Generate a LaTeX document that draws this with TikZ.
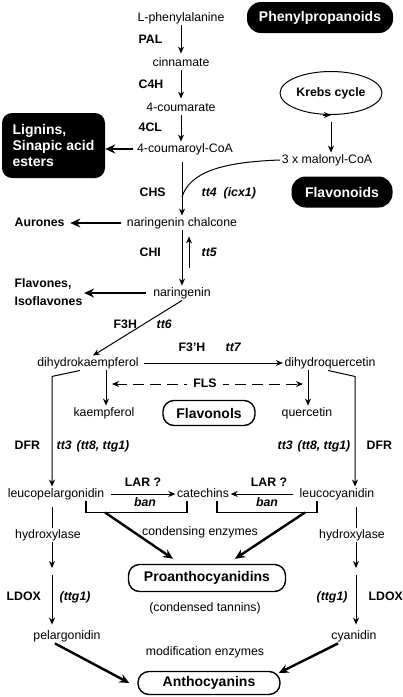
\documentclass[tikz,border=0pt]{standalone}
\usepackage{fontspec}
\setmainfont{Liberation Sans}
\usepackage{tikz}
\usetikzlibrary{arrows.meta}
\usetikzlibrary{shapes.geometric}

\begin{document}
\begin{tikzpicture}[x=1pt, y=-1pt,
    every node/.style={font=\fontsize{12.3}{14}\selectfont, inner sep=1.5pt},
    cmpd/.style={text height=9pt, text depth=2.5pt},
    enz/.style={cmpd, font=\fontsize{12.3}{14}\selectfont\bfseries, anchor=west},
    gene/.style={cmpd, font=\fontsize{12.3}{14}\selectfont\bfseries\itshape, anchor=west},
    darkbox/.style={fill=black, text=white, rounded corners=14pt, align=left, font=\fontsize{14}{16}\selectfont\bfseries},
    classbox/.style={draw, fill=white, line width=1.4pt, rounded corners=11pt, font=\fontsize{14}{16}\selectfont\bfseries},
    arr/.style={-{Stealth[length=7pt, width=6pt]}, line width=1pt},
    fat/.style={-{Stealth[length=10pt, width=9pt]}, line width=2.4pt},
    dsh/.style={dash pattern=on 11pt off 6pt}]
\useasboundingbox (0,0) rectangle (403,697);

\node[darkbox, minimum width=146pt, minimum height=31pt]                 (ppd) at (320,17.5)  {Phenylpropanoids};
\node[darkbox, minimum width=103pt, minimum height=65pt, rounded corners=10pt] (lig) at (53.5,145.5) {Lignins,\\Sinapic acid\\esters};
\node[darkbox, minimum width=101pt, minimum height=31pt]                 (fld) at (342,192)   {Flavonoids};
\node[draw, ellipse, line width=1pt, minimum width=98pt, minimum height=43pt,
      font=\fontsize{12.3}{14}\selectfont\bfseries]                      (krb) at (331,93)    {Krebs cycle};

\node[cmpd] (phe) at (181,18)  {L-phenylalanine};
\node[cmpd] (cin) at (181,63)  {cinnamate};
\node[cmpd] (cou) at (181,108) {4-coumarate};
\node[cmpd] (cmr) at (185,149) {4-coumaroyl-CoA};
\node[cmpd] (mal) at (327,160) {3 x malonyl-CoA};
\node[cmpd] (nch) at (182,223) {naringenin chalcone};
\node[cmpd] (nar) at (182,293) {naringenin};
\node[cmpd] (dhk) at (88,363)  {dihydrokaempferol};
\node[cmpd] (dhq) at (330,363) {dihydroquercetin};
\node[cmpd] (kae) at (104,413) {kaempferol};
\node[cmpd] (que) at (307,413) {quercetin};
\node[cmpd] (lpg) at (56,494)  {leucopelargonidin};
\node[cmpd] (cat) at (203,494) {catechins};
\node[cmpd] (lcy) at (337,494) {leucocyanidin};
\node[cmpd] (pel) at (67,636)  {pelargonidin};
\node[cmpd] (cya) at (354,636) {cyanidin};

\node[enz]  (aur) at (13,223) {Aurones};
\node[anchor=west, align=left, font=\fontsize{12.3}{17.5}\selectfont\bfseries] (flv) at (13,292) {Flavones,\\Isoflavones};

\node[classbox, minimum width=92pt,  minimum height=25pt] (fol) at (209,413) {Flavonols};
\node[classbox, minimum width=157pt, minimum height=27pt] (pac) at (207,578) {Proanthocyanidins};
\node[classbox, minimum width=142pt, minimum height=23pt] (ant) at (209,683) {Anthocyanins};

\node[enz] (pal)  at (137,40)  {PAL};
\node[enz] (c4h)  at (137,85)  {C4H};
\node[enz] (fcl)  at (137,128) {4CL};
\node[enz] (chs)  at (138,193) {CHS};
\node[enz] (chi)  at (138,253) {CHI};
\node[enz] (f3h)  at (112,325) {F3H};
\node[enz] (f3ph) at (177,348) {F3’H};
\node[enz] (dfrl) at (13,446)  {DFR};
\node[enz] (dfrr) at (365,446) {DFR};
\node[enz] (ldxl) at (5,597)   {LDOX};
\node[enz] (ldxr) at (367,597) {LDOX};
\node[enz, anchor=center] (larl) at (143,483) {LAR ?};
\node[enz, anchor=center] (larr) at (269,483) {LAR ?};

\node[gene] (tt4)  at (200,193) {tt4\hspace{7pt}(icx1)};
\node[gene] (tt5)  at (200,253) {tt5};
\node[gene] (tt6)  at (155,325) {tt6};
\node[gene] (tt7)  at (224,348) {tt7};
\node[gene] (tt3l) at (55,446)  {tt3\hspace{5pt}(tt8, ttg1)};
\node[gene] (tt3r) at (276,446) {tt3\hspace{5pt}(tt8, ttg1)};
\node[gene] (tgl)  at (58,597)  {(ttg1)};
\node[gene] (tgr)  at (315,597) {(ttg1)};
\node[gene, anchor=center] (banl) at (145,503) {ban};
\node[gene, anchor=center] (banr) at (267,503) {ban};

\node[cmpd] (cde) at (200,532) {condensing enzymes};
\node[cmpd] (ctn) at (205,608) {(condensed tannins)};
\node[cmpd] (mde) at (205,652) {modification enzymes};

\coordinate (chj)  at (182,197);
\coordinate (flsl) at (112,384);
\coordinate (flsr) at (303,384);
\coordinate (lh)   at (52,571);
\coordinate (rh)   at (356,571);

\draw[arr, shorten >=2pt] (phe) -- (cin);
\draw[arr, shorten >=2pt] (cin) -- (cou);
\draw[arr] (cou) -- (cmr.north -| cou);
\draw[fat, shorten <=2pt] (cmr.west) -- (cmr.west -| lig.east);
\draw[arr, shorten <=7pt] (krb.south) -- (krb.south |- mal.north);
\draw[arr] ([xshift=-8pt]krb.south) -- ([xshift=0pt]krb.south);
\draw[arr, shorten <=6pt] (cmr.south -| nch) -- (nch);
\draw[line width=1pt] (mal.west) .. controls (222,162) and (190,172) .. (chj);
\draw[fat, shorten <=4pt, shorten >=4pt] (nch.west) -- (aur.east);
\draw[arr] (nch) -- (nar);
\draw[arr, shorten <=18pt, shorten >=6pt] ([xshift=7pt]nar.north) -- ([xshift=7pt]nch.south);
\draw[fat, shorten <=6pt] (nar.west) -- (nar.west -| flv.east);
\draw[arr] (nar.south) -- ([xshift=5pt]dhk.north);
\draw[arr, shorten <=4pt] (dhk) -- (dhq);
\draw[arr] ([xshift=-8pt]dhk.south) -- ++(-28,6) coordinate (dl) -- (dl |- lpg.north);
\draw[arr] ([xshift=18pt]dhk.south) -- ([xshift=2pt]kae.north);
\draw[arr] ([xshift=-22pt]dhq.south) -- ([xshift=1pt]que.north);
\draw[arr] ([xshift=-2pt]dhq.south) -- ++(27,6) coordinate (dr) -- (dr |- lcy.north);
\draw[arr, dsh, {Stealth[length=7pt, width=6pt]}-{Stealth[length=7pt, width=6pt]}] (flsl) -- (flsr);
\node[enz, anchor=center, fill=white, inner xsep=6pt] (fls) at (205,384) {FLS};
\draw[arr, shorten <=5pt] (lpg) -- (cat);
\draw[arr, shorten <=5pt] (lcy) -- (cat);
\draw[line width=1.6pt] ([xshift=30pt]lpg.south) -- ++(0,11) coordinate (bl) -- ++(101,0) -- ++(0,-11);
\draw[line width=1.6pt] ([xshift=14pt]cat.south) -- ++(0,11) -- ++(100,0) coordinate (brr) -- ++(0,-11);
\draw[fat] ([xshift=19pt]bl) -- ([xshift=-34pt, yshift=5pt]pac.north);
\draw[fat] ([xshift=-12pt]brr) -- ([xshift=28pt, yshift=5pt]pac.north);
\draw[arr, shorten <=6pt] ([xshift=-4pt]lpg.south) -- ([yshift=3pt]lh);
\draw[arr, shorten >=4pt] ([yshift=-4pt]lh) -- ([xshift=-15pt]pel.north);
\draw[arr, shorten <=6pt] ([xshift=19pt]lcy.south) -- ([yshift=3pt]rh);
\draw[arr, shorten >=4pt] ([yshift=-4pt]rh) -- ([xshift=2pt]cya.north);
\node[cmpd, fill=white, inner sep=1pt] (hyl) at (48,535)  {hydroxylase};
\node[cmpd, fill=white, inner sep=1pt] (hyr) at (352,535) {hydroxylase};
\draw[fat] ([xshift=-12pt]pel.south) -- ([xshift=-8pt]ant.west);
\draw[fat] ([xshift=-16pt]cya.south) -- ([xshift=-2pt, yshift=10pt]ant.east);
\end{tikzpicture}
\end{document}
